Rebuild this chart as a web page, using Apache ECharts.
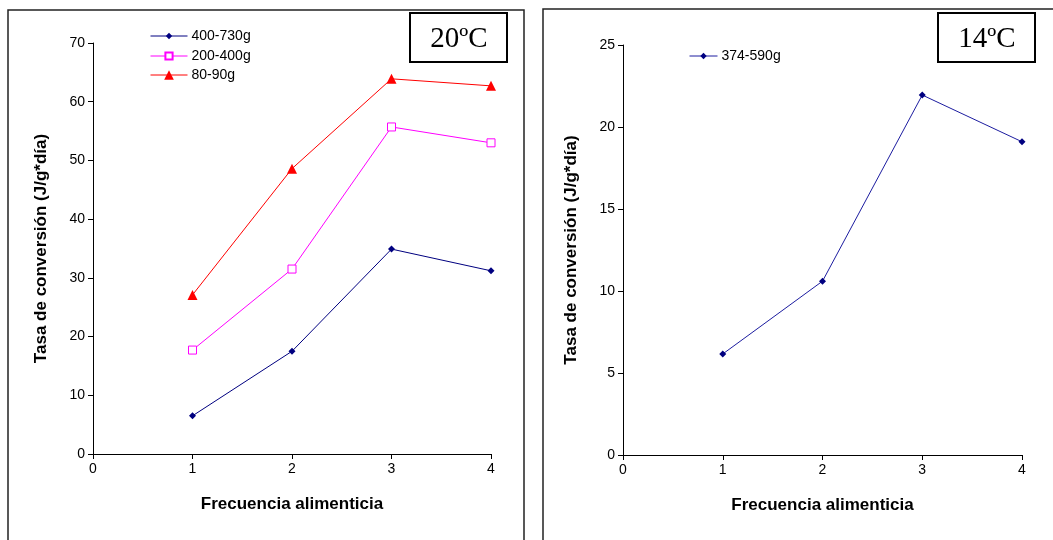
<!DOCTYPE html>
<html>
<head>
<meta charset="utf-8">
<script src="https://cdn.jsdelivr.net/npm/echarts@6/dist/echarts.min.js"></script>
<style>
  html, body { margin: 0; padding: 0; background: #fff; }
  #chart { width: 1053px; height: 540px; }
</style>
</head>
<body>
<div id="chart"></div>
<script>
// Feeding frequency (x) and conversion rate (J/g*day) per size class
const frecuencia = [1, 2, 3, 4];
const s20_400_730 = [6.5, 17.5, 34.9, 31.2];
const s20_200_400 = [17.7, 31.5, 55.7, 53.0];
const s20_80_90 = [27.1, 48.6, 63.9, 62.7];
const s14_374_590 = [6.16, 10.6, 21.95, 19.1];

const xTicks = [0, 1, 2, 3, 4];
const yTicks20 = [0, 10, 20, 30, 40, 50, 60, 70];
const yTicks14 = [0, 5, 10, 15, 20, 25];

const pairs = (xs, ys) => xs.map((x, i) => [x, ys[i]]);

const sans = 'Liberation Sans, Arial, sans-serif';
const serif = 'Liberation Serif, Times New Roman, serif';

function xAxisFor(gridIndex) {
  return {
    type: 'value', gridIndex,
    min: xTicks[0], max: xTicks[xTicks.length - 1], interval: 1,
    name: 'Frecuencia alimenticia', nameLocation: 'middle', nameGap: 42,
    nameTextStyle: { fontFamily: sans, fontWeight: 'bold', fontSize: 17, color: '#000' },
    axisLine: { lineStyle: { color: '#000', width: 1 } },
    axisTick: { show: true, length: 5, lineStyle: { color: '#000' } },
    axisLabel: { fontFamily: sans, fontSize: 14, color: '#000', margin: 8 },
    splitLine: { show: false }
  };
}
function yAxisFor(gridIndex, ticks, step) {
  return {
    type: 'value', gridIndex,
    min: ticks[0], max: ticks[ticks.length - 1], interval: step,
    name: 'Tasa de conversión (J/g*día)', nameLocation: 'middle', nameGap: 43,
    nameTextStyle: { fontFamily: sans, fontWeight: 'bold', fontSize: 17, color: '#000' },
    axisLine: { show: true, lineStyle: { color: '#000', width: 1 } },
    axisTick: { show: true, length: 5, lineStyle: { color: '#000' } },
    axisLabel: { fontFamily: sans, fontSize: 14, color: '#000', margin: 8 },
    splitLine: { show: false }
  };
}

// one legend block per entry so each key symbol keeps its own size
function legendEntry(name, left, top, width, height) {
  return {
    data: [name], left, top,
    itemWidth: width, itemHeight: height, itemGap: 4,
    lineStyle: { width: 1 },
    textStyle: { fontFamily: sans, fontSize: 14, color: '#000', padding: [0, 0, 0, -1] }
  };
}

const chart = echarts.init(document.getElementById('chart'), null, { renderer: 'canvas' });

chart.setOption({
  backgroundColor: '#fff',
  animation: false,
  grid: [
    { left: 93, top: 43, width: 398, height: 411 },
    { left: 623, top: 45, width: 399, height: 410 }
  ],
  xAxis: [xAxisFor(0), xAxisFor(1)],
  yAxis: [yAxisFor(0, yTicks20, 10), yAxisFor(1, yTicks14, 5)],
  legend: [
    legendEntry('400-730g', 145, 24, 37, 8),
    legendEntry('200-400g', 145, 44, 37, 9),
    legendEntry('80-90g', 145, 63, 37, 12),
    legendEntry('374-590g', 684, 44, 28, 8)
  ],
  series: [
    {
      name: '400-730g', type: 'line', xAxisIndex: 0, yAxisIndex: 0,
      data: pairs(frecuencia, s20_400_730),
      symbol: 'diamond', symbolSize: 7,
      lineStyle: { color: '#000080', width: 1 },
      itemStyle: { color: '#000080' }
    },
    {
      name: '200-400g', type: 'line', xAxisIndex: 0, yAxisIndex: 0,
      data: pairs(frecuencia, s20_200_400),
      symbol: 'rect', symbolSize: 8,
      lineStyle: { color: '#FF00FF', width: 1 },
      itemStyle: { color: '#fff', borderColor: '#FF00FF', borderWidth: 1 }
    },
    {
      name: '80-90g', type: 'line', xAxisIndex: 0, yAxisIndex: 0,
      data: pairs(frecuencia, s20_80_90),
      symbol: 'triangle', symbolSize: 10,
      lineStyle: { color: '#FF0000', width: 1 },
      itemStyle: { color: '#FF0000' }
    },
    {
      name: '374-590g', type: 'line', xAxisIndex: 1, yAxisIndex: 1,
      data: pairs(frecuencia, s14_374_590),
      symbol: 'diamond', symbolSize: 7,
      lineStyle: { color: '#1c1ca0', width: 1 },
      itemStyle: { color: '#000080' }
    }
  ],
  graphic: [
    // panel frames
    { type: 'rect', shape: { x: 8, y: 10, width: 516, height: 540 },
      style: { fill: null, stroke: '#222', lineWidth: 1.5 }, silent: true },
    { type: 'rect', shape: { x: 543, y: 9, width: 520, height: 540 },
      style: { fill: null, stroke: '#222', lineWidth: 1.5 }, silent: true },
    // temperature boxes
    { type: 'rect', shape: { x: 410, y: 13, width: 97, height: 49 },
      style: { fill: '#fff', stroke: '#000', lineWidth: 2 }, silent: true },
    { type: 'text', x: 459, y: 39,
      style: { text: '20ºC', font: '29px ' + serif, fill: '#000', textAlign: 'center', textVerticalAlign: 'middle' } },
    { type: 'rect', shape: { x: 938, y: 13, width: 97, height: 49 },
      style: { fill: '#fff', stroke: '#000', lineWidth: 2 }, silent: true },
    { type: 'text', x: 987, y: 39,
      style: { text: '14ºC', font: '29px ' + serif, fill: '#000', textAlign: 'center', textVerticalAlign: 'middle' } }
  ]
});
</script>
</body>
</html>
